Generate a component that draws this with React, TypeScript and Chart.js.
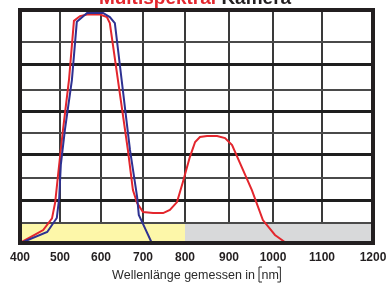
import React, { useEffect, useRef } from "react";
import { Chart, registerables, LinearScale } from "chart.js";

Chart.register(...registerables);

// ---- data ----
const X_TICKS = [400, 500, 600, 700, 800, 900, 1000, 1100, 1200];
const Y_TICKS = [0, 10, 20, 30, 40, 50, 60, 70, 80, 90, 100];

const RED_NM = [400, 458, 480, 488, 495, 507, 522, 534, 549, 566, 598, 614, 621, 664, 676, 686, 700, 724, 748, 764, 781, 795, 811, 823, 834, 850, 873, 891, 907, 925, 952, 977, 1004, 1024];
const RED_VAL = [0, 6.5, 12, 19, 31, 51, 74, 96.6, 98.1, 98.6, 98.6, 97.8, 95.9, 42.3, 24.5, 18.7, 14.8, 14.3, 14.3, 15.7, 19.1, 28.2, 39.1, 45.9, 48.2, 48.6, 48.6, 47.7, 44.5, 36.5, 24.5, 11.3, 4, 0.5];

const BLUE_NM = [402, 468, 492, 498, 502, 512, 529, 541, 566, 605, 621, 633, 669, 686, 690, 698, 721];
const BLUE_VAL = [0, 5.5, 12.2, 20.9, 35.7, 51.4, 73.8, 96.3, 99.1, 99.1, 97.8, 95.9, 42.3, 21.4, 13.5, 10.4, 0];

const BAND_FROM = [400, 800];
const BAND_TO = [800, 1200];
const BAND_TOP = 10;

const TITLE_RED = "Multispektral";
const TITLE_BLACK = "Kamera";
const X_TITLE = "Wellenlänge gemessen in ";
const X_UNIT = "nm";

// ---- scale layout (uneven hand-drawn grid spacing) ----
const X_GRID_OFFS = [0, 40, 81, 123, 165, 209, 253, 302, 353];
const Y_GRID_OFFS = [0, 20, 43, 65, 88, 110, 132, 153, 179, 201, 233];

const WARP: Record<string, { k: number[]; f: number[] }> = {
  x: { k: X_TICKS, f: X_GRID_OFFS.map((p) => p / X_GRID_OFFS[X_GRID_OFFS.length - 1]) },
  y: { k: Y_TICKS, f: Y_GRID_OFFS.map((p) => p / Y_GRID_OFFS[Y_GRID_OFFS.length - 1]) },
};

function toDec(k: number[], f: number[], v: number) {
  let i = 0;
  while (i < k.length - 2 && v > k[i + 1]) i++;
  return f[i] + ((v - k[i]) / (k[i + 1] - k[i])) * (f[i + 1] - f[i]);
}
function fromDec(k: number[], f: number[], d: number) {
  let i = 0;
  while (i < f.length - 2 && d > f[i + 1]) i++;
  return k[i] + ((d - f[i]) / (f[i + 1] - f[i])) * (k[i + 1] - k[i]);
}

class WarpScale extends LinearScale {
  static id = "warp";
  static defaults = LinearScale.defaults;
  getPixelForValue(value: any) {
    if (value === null || value === undefined || isNaN(value)) return NaN;
    const w = WARP[(this as any).id];
    return this.getPixelForDecimal(toDec(w.k, w.f, value));
  }
  getValueForPixel(pixel: number) {
    const w = WARP[(this as any).id];
    return fromDec(w.k, w.f, this.getDecimalForPixel(pixel));
  }
}
Chart.register(WarpScale as any);

const FONT = "'Liberation Sans', Arial, sans-serif";

const decoPlugin = {
  id: "deco",
  beforeDatasetsDraw(chart: any) {
    const { ctx, chartArea, scales } = chart;
    const colors = ["#fdf7a9", "#d8d9da"];
    ctx.save();
    const yTop = scales.y.getPixelForValue(BAND_TOP) + 1;
    for (let i = 0; i < BAND_FROM.length; i++) {
      const x0 = scales.x.getPixelForValue(BAND_FROM[i]);
      const x1 = scales.x.getPixelForValue(BAND_TO[i]);
      ctx.fillStyle = colors[i];
      ctx.fillRect(x0, yTop, x1 - x0, chartArea.bottom - yTop);
    }
    ctx.restore();
  },
  afterDatasetsDraw(chart: any) {
    const { ctx, chartArea } = chart;
    ctx.save();
    ctx.strokeStyle = "#231f20";
    ctx.lineWidth = 4;
    ctx.strokeRect(chartArea.left, chartArea.top, chartArea.right - chartArea.left, chartArea.bottom - chartArea.top);
    ctx.restore();
  },
  afterDraw(chart: any) {
    const { ctx } = chart;
    ctx.save();
    // title
    ctx.font = `bold 19px ${FONT}`;
    ctx.textBaseline = "alphabetic";
    const a = TITLE_RED + " ";
    const wa = ctx.measureText(a).width;
    const wb = ctx.measureText(TITLE_BLACK).width;
    const x0 = 195 - (wa + wb) / 2;
    ctx.fillStyle = "#e3262d";
    ctx.fillText(a, x0, 4);
    ctx.fillStyle = "#231f20";
    ctx.fillText(TITLE_BLACK, x0 + wa, 4);

    // x axis title with tall brackets
    ctx.font = `12.5px ${FONT}`;
    ctx.fillStyle = "#2a2a2a";
    const baseY = 279;
    const w1 = ctx.measureText(X_TITLE).width;
    const wu = ctx.measureText(X_UNIT).width;
    const total = w1 + 3 + wu + 5 + 2;
    let x = 199 - total / 2;
    ctx.fillText(X_TITLE, x, baseY);
    x += w1;
    ctx.strokeStyle = "#2a2a2a";
    ctx.lineWidth = 1;
    ctx.beginPath();
    ctx.moveTo(x + 3.5, baseY + 3);
    ctx.lineTo(x + 0.5, baseY + 3);
    ctx.lineTo(x + 0.5, baseY - 12);
    ctx.lineTo(x + 3.5, baseY - 12);
    ctx.stroke();
    x += 3;
    ctx.fillText(X_UNIT, x, baseY);
    x += wu + 1;
    ctx.beginPath();
    ctx.moveTo(x - 2.5, baseY + 3);
    ctx.lineTo(x + 0.5, baseY + 3);
    ctx.lineTo(x + 0.5, baseY - 12);
    ctx.lineTo(x - 2.5, baseY - 12);
    ctx.stroke();
    ctx.restore();
  },
};

export default function App() {
  const ref = useRef<HTMLCanvasElement>(null);
  useEffect(() => {
    if (!ref.current) return;
    const chart = new Chart(ref.current, {
      type: "line",
      data: {
        datasets: [
          {
            label: "blue",
            data: BLUE_NM.map((x, i) => ({ x, y: BLUE_VAL[i] })),
            borderColor: "#2e3192",
            borderWidth: 2,
            pointRadius: 0,
            tension: 0,
            fill: false,
          },
          {
            label: "red",
            data: RED_NM.map((x, i) => ({ x, y: RED_VAL[i] })),
            borderColor: "#e3262d",
            borderWidth: 2,
            pointRadius: 0,
            tension: 0,
            fill: false,
          },
        ],
      },
      options: {
        animation: false,
        responsive: false,
        devicePixelRatio: 1,
        layout: { padding: { left: 20, right: 16, top: 10, bottom: 0 } },
        plugins: { legend: { display: false }, tooltip: { enabled: false }, title: { display: false } },
        scales: {
          x: {
            type: "warp" as any,
            position: "bottom",
            min: 400,
            max: 1200,
            afterFit: (s: any) => {
              s.paddingLeft = 0;
              s.paddingRight = 0;
              s.height = 42;
            },
            ticks: {
              stepSize: 100,
              autoSkip: false,
              maxRotation: 0,
              padding: 7,
              color: "#231f20",
              font: { family: FONT, size: 12, weight: "bold" },
              callback: (v: any) => String(v),
            },
            grid: { color: "#3a3a3a", lineWidth: 2, drawTicks: false },
            border: { display: false },
            title: { display: false },
          } as any,
          y: {
            type: "warp" as any,
            min: 0,
            max: 100,
            ticks: { display: false, stepSize: 10 },
            grid: {
              drawTicks: false,
              color: (c: any) => (c.index % 2 === 0 ? "#1e1e1e" : "#4a4a4a"),
              lineWidth: (c: any) => (c.index % 2 === 0 ? 3 : 2),
            },
            border: { display: false },
          } as any,
        },
      },
      plugins: [decoPlugin],
    });
    return () => chart.destroy();
  }, []);
  return (
    <div style={{ position: "absolute", left: 0, top: 0, width: 389, height: 285, background: "#fff" }}>
      <canvas ref={ref} width={389} height={285} style={{ display: "block" }} />
    </div>
  );
}
